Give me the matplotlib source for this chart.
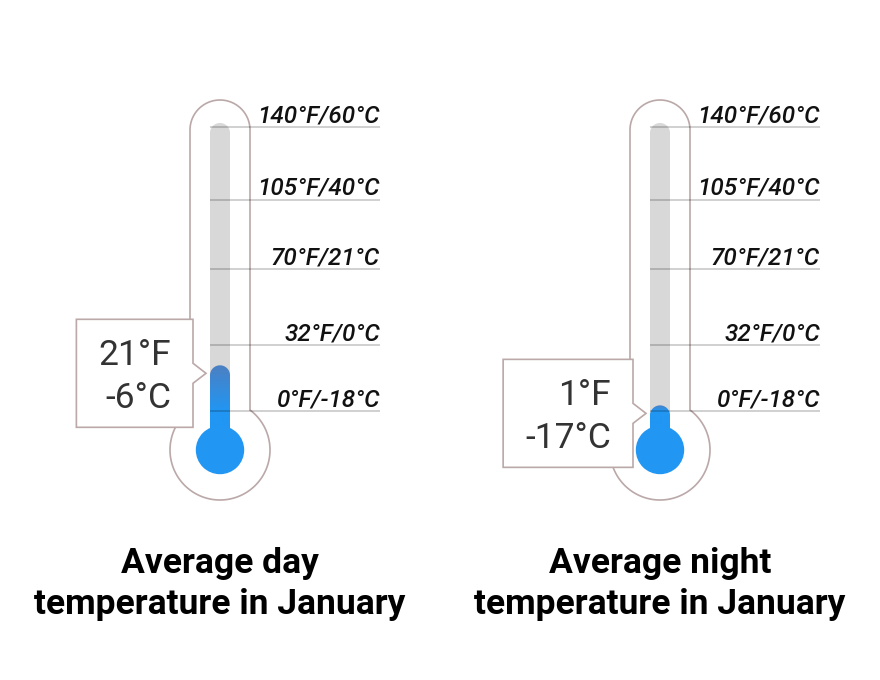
import numpy as np
import matplotlib.pyplot as plt
from matplotlib.patches import Polygon, Circle
from matplotlib.transforms import offset_copy

plt.rcParams['font.family'] = ['Roboto', 'DejaVu Sans']

titles = ['Average day\ntemperature in January', 'Average night\ntemperature in January']
temp_f = [21, 1]
temp_c = [-6, -17]
tick_c = [60, 40, 21, 0, -18]
tick_labels = ['140°F/60°C', '105°F/40°C', '70°F/21°C', '32°F/0°C', '0°F/-18°C']

K = 3.641  # pixels per degree C


def px(v):
    # pixel length -> data units (x and y share the same scale)
    return v / K


def rounded_column(half, y0, y1):
    # column from y0 up to y1, top capped by a half circle
    a = np.linspace(np.pi, 0, 40)
    xs = np.concatenate([[-half], half * np.cos(a), [half]])
    ys = np.concatenate([[y0], y1 - half + half * np.sin(a), [y0]])
    return np.column_stack([xs, ys])


EDGE = '#bba8a8'
BLUE = np.array([33, 150, 243]) / 255
DARK = np.array([76, 128, 194]) / 255

fig = plt.figure(figsize=(8.8, 6.8), dpi=100)
renderer = fig.canvas.get_renderer()

for i in range(2):
    ax = fig.add_axes([0.5 * i, 0, 0.5, 1])
    ax.set_xlim(-px(220), px(220))
    ax.set_ylim(-18 - px(269), -18 + px(411))
    ax.axis('off')

    cy = -18 - px(39)          # bulb centre
    R, h = px(50), px(30)
    s = np.sqrt(R**2 - h**2)
    top = max(tick_c) + px(27)

    # outer outline: tube + bulb
    a_top = np.linspace(0, np.pi, 50)
    th0 = np.arctan2(s, -h)
    a_bulb = np.linspace(th0, 2 * np.pi + np.arctan2(s, h), 120)
    xs = np.concatenate([[h], h * np.cos(a_top), [-h], R * np.cos(a_bulb)])
    ys = np.concatenate([[cy + s], top - h + h * np.sin(a_top), [cy + s], cy + R * np.sin(a_bulb)])
    ax.add_patch(Polygon(np.column_stack([xs, ys]), closed=True, facecolor='white',
                         edgecolor=EDGE, lw=1.2, zorder=1))

    # gray track
    ax.add_patch(Polygon(rounded_column(px(10), cy, max(tick_c) + px(4)), closed=True,
                         facecolor='#d8d8d8', edgecolor='none', zorder=2))

    # blue column with gradient
    t = temp_c[i]
    ttop = t + px(2)
    col = Polygon(rounded_column(px(10), cy, ttop), closed=True, facecolor='none',
                  edgecolor='none', zorder=3)
    ax.add_patch(col)
    yy = np.linspace(cy, ttop, 200)
    frac = np.clip((yy - (-18)) / (ttop - (-18)), 0, 1)
    grad = BLUE[None, :] + frac[:, None] * (DARK - BLUE)[None, :]
    im = ax.imshow(grad[:, None, :], extent=[-px(10), px(10), cy, ttop], origin='lower',
                   aspect='auto', zorder=3, interpolation='bilinear')
    im.set_clip_path(col)
    ax.add_patch(Circle((0, cy), px(23.5), color='#2196f3', zorder=4))

    # grid lines and labels
    ax.hlines(tick_c, -px(10), px(160), colors='k', alpha=0.2, lw=1.3, zorder=5)
    lab_tr = offset_copy(ax.transData, fig=fig, y=5, units='dots')
    for v, lab in zip(tick_c, tick_labels):
        ax.text(px(160), v, lab, ha='right', va='baseline', fontsize=17.5,
                fontstyle='italic', fontweight='medium', color='#111111',
                transform=lab_tr, zorder=5)

    # callout
    tip_x, tip_y = -px(14), t - px(6)
    right = -px(27)
    tx = -px(49)
    t1 = ax.text(tx, tip_y + px(8), f'{temp_f[i]}°F', ha='right', va='baseline',
                 fontsize=25.5, color='#333333', zorder=8)
    t2 = ax.text(tx, tip_y - px(35), f'{temp_c[i]}°C', ha='right', va='baseline',
                 fontsize=25.5, color='#333333', zorder=8)
    w = max(t1.get_window_extent(renderer).width, t2.get_window_extent(renderer).width)
    left = tx - px(w) - px(22)
    btop, bbot = tip_y + px(54), tip_y - px(54)
    box = [(left, btop), (right, btop), (right, tip_y + px(10)), (tip_x, tip_y),
           (right, tip_y - px(10)), (right, bbot), (left, bbot)]
    ax.add_patch(Polygon(box, closed=True, facecolor='white', edgecolor=EDGE,
                         lw=1.2, zorder=7))

    ax.text(0.5, 1 - 584 / 680, titles[i], transform=ax.transAxes, ha='center',
            va='center', fontsize=25.5, fontweight='bold', color='black', linespacing=1.3)

fig.savefig('out.png', dpi=100, facecolor='white')
